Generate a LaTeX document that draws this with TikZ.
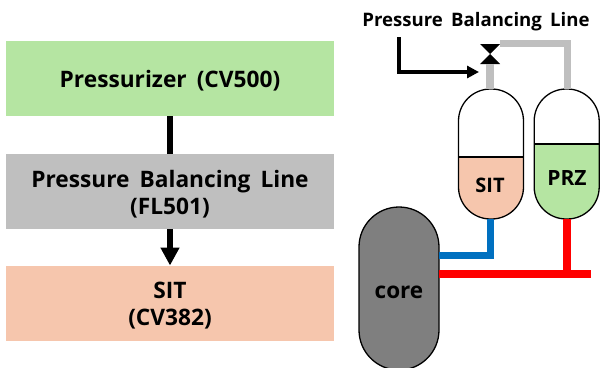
\documentclass[tikz,border=0pt]{standalone}
\usepackage{fontspec}
\setmainfont[WordSpace=1.7]{Open Sans}
\usetikzlibrary{arrows.meta}
\definecolor{grn}{RGB}{181,229,162}
\definecolor{gry}{RGB}{191,191,191}
\definecolor{pch}{RGB}{246,198,173}
\definecolor{blu}{RGB}{0,112,192}
\definecolor{cor}{RGB}{127,127,127}
\tikzset{
  x=1pt,y=-1pt,
  lbl/.style={font=\bfseries\fontsize{22.7}{27.5}\selectfont,text=black,align=center,inner sep=0pt,outer sep=0pt},
  box/.style={minimum width=328pt,minimum height=75pt,inner sep=0pt,outer sep=0pt},
  vessel/.style={draw=black,line width=1.3pt,minimum width=65pt,minimum height=130pt,rounded corners=32pt,outer sep=0pt},
  pipe/.style={line width=7.5pt,line cap=butt,line join=miter},
  conn/.style={black,line width=6pt},
}
\begin{document}
\begin{tikzpicture}
\useasboundingbox (0,0) rectangle (600,367);
% left column
\node[box,fill=grn,label={[lbl,yshift=-2pt]center:Pressurizer (CV500)}] (prs) at (170,78.5) {};
\node[box,fill=gry,label={[lbl,yshift=-2.5pt]center:Pressure Balancing Line\\(FL501)}] (fl) at (170,191.5) {};
\node[box,fill=pch,label={[lbl,yshift=-2.5pt]center:SIT\\(CV382)}] (sitb) at (170,303) {};
\draw[conn] (prs.south) -- (fl.north);
\draw[conn,-{Triangle[length=18pt,width=18pt]}] (fl.south) -- (sitb.north);
% pipes and vessels
\node[vessel,path picture={\fill[pch,sharp corners] (-40,3) rectangle (40,70);}] (sit) at (491,154) {};
\node[vessel,path picture={\fill[grn,sharp corners] (-40,-10) rectangle (40,70);}] (prz) at (566.7,154) {};
\draw[black,line width=1.3pt] (sit.west |- 0,157) -- (sit.east |- 0,157);
\draw[black,line width=1.3pt] (prz.west |- 0,144) -- (prz.east |- 0,144);
\node[lbl,font=\bfseries\fontsize{20}{24}\selectfont] (sitl) at (490,185) {SIT};
\node[lbl,font=\bfseries\fontsize{21}{25}\selectfont] (przl) at (567,178) {PRZ};
\node[vessel,fill=cor,minimum width=80pt,minimum height=163pt,rounded corners=40pt] (core) at (399,288.5) {};
\node[lbl,font=\bfseries\fontsize{22.5}{27}\selectfont] (corel) at (399,292) {core};
% valve
\coordinate (vc) at (490,54);
\fill[black] (480,44) -- (500,44) -- (vc) -- (500,64) -- (480,64) -- (vc) -- cycle;
% grey line
\coordinate (g1) at (490,64);
\coordinate (g2) at (500,43.5);
\coordinate (g3) at (567.3,43.5);
\draw[gry,pipe] (sit.north -| g1) -- (g1);
\draw[gry,pipe] (g2) -- (g3) -- (g3 |- prz.north);
% label and pointer
\node[lbl,font=\bfseries\fontsize{18.6}{22}\selectfont] (pbl) at (476,21.5) {Pressure Balancing Line};
\coordinate (a1) at (399,37);
\coordinate (a2) at (399,72);
\coordinate (a3) at (479,72);
\draw[black,line width=4pt,-{Triangle[length=12pt,width=12pt]}] (a1) -- (a2) -- (a3);
% coolant lines
\coordinate (b1) at (490.5,255.5);
\coordinate (r1) at (567,274);
\coordinate (r2) at (591,274);
\draw[blu,pipe] (sit.south -| b1) -- (b1) -- (core.east |- b1);
\draw[red,pipe] (prz.south -| r1) -- (r1);
\draw[red,pipe] (core.east |- r1) -- (r2);
\end{tikzpicture}
\end{document}
